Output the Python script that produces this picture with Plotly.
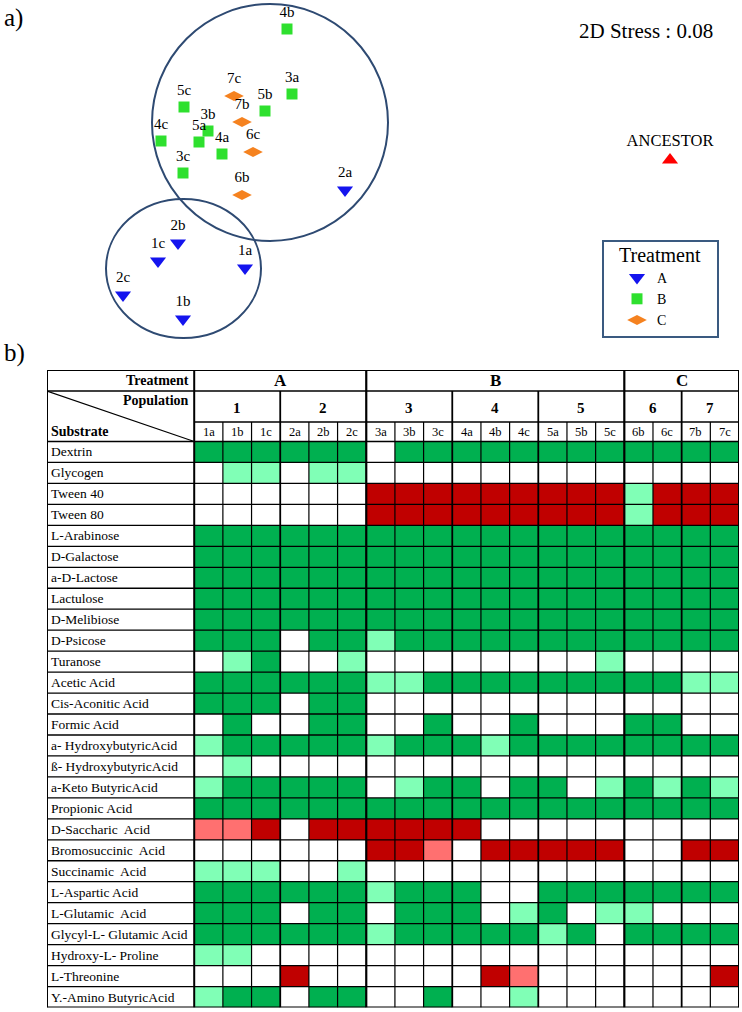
import plotly.graph_objects as go

W, H = 742, 1012
FONT = "Liberation Serif"

# ---------------- panel a) : NMDS ordination ----------------
samples = ["1a", "1b", "1c", "2a", "2b", "2c", "3a", "3b", "3c", "4a",
           "4b", "4c", "5a", "5b", "5c", "6b", "6c", "7b", "7c"]
treatment = ["A"] * 6 + ["B"] * 9 + ["C"] * 4
nmds1 = [-1.55, -2.17, -2.42, -0.55, -2.22, -2.77, -1.08, -1.92, -2.17, -1.78,
         -1.13, -2.39, -2.01, -1.35, -2.16, -1.58, -1.47, -1.58, -1.66]
nmds2 = [-0.98, -1.49, -0.91, -0.20, -0.73, -1.25, 0.76, 0.39, -0.03, 0.16,
         1.41, 0.29, 0.28, 0.59, 0.63, -0.25, 0.18, 0.48, 0.74]
ancestor_x = [2.70]
ancestor_y = [0.10]
stress = 0.08

# cluster ellipses (NMDS units): x0, y0, x1, y1
cluster_big = [-2.48, -0.71, -0.12, 1.66]
cluster_small = [-2.94, -1.68, -1.39, -0.29]

treat_names = ["A", "B", "C"]
treat_symbols = ["triangle-down", "square", "diamond-wide"]
treat_colors = ["#1414ee", "#2ee02e", "#f5821f"]
treat_sizes = [14, 11, 14]

# ---------------- panel b) : Biolog substrate utilisation ----------------
substrates = ["Dextrin", "Glycogen", "Tween 40", "Tween 80", "L-Arabinose",
              "D-Galactose", "a-D-Lactose", "Lactulose", "D-Melibiose", "D-Psicose",
              "Turanose", "Acetic Acid", "Cis-Aconitic Acid", "Formic Acid",
              "a- HydroxybutyricAcid", "ß- HydroxybutyricAcid", "a-Keto ButyricAcid",
              "Propionic Acid", "D-Saccharic  Acid", "Bromosuccinic  Acid",
              "Succinamic  Acid", "L-Aspartic Acid", "L-Glutamic  Acid",
              "Glycyl-L- Glutamic Acid", "Hydroxy-L- Proline", "L-Threonine",
              "Y.-Amino ButyricAcid"]
# 2 = strong gain, 1 = weak gain, 0 = no change, -1 = weak loss, -2 = strong loss
#            1a 1b 1c 2a 2b 2c 3a 3b 3c 4a 4b 4c 5a 5b 5c 6b 6c 7b 7c
activity = [[2, 2, 2, 2, 2, 2, 0, 2, 2, 2, 2, 2, 2, 2, 2, 2, 2, 2, 2],
            [0, 1, 1, 0, 1, 1, 0, 0, 0, 0, 0, 0, 0, 0, 0, 0, 0, 0, 0],
            [0, 0, 0, 0, 0, 0, -2, -2, -2, -2, -2, -2, -2, -2, -2, 1, -2, -2, -2],
            [0, 0, 0, 0, 0, 0, -2, -2, -2, -2, -2, -2, -2, -2, -2, 1, -2, -2, -2],
            [2, 2, 2, 2, 2, 2, 2, 2, 2, 2, 2, 2, 2, 2, 2, 2, 2, 2, 2],
            [2, 2, 2, 2, 2, 2, 2, 2, 2, 2, 2, 2, 2, 2, 2, 2, 2, 2, 2],
            [2, 2, 2, 2, 2, 2, 2, 2, 2, 2, 2, 2, 2, 2, 2, 2, 2, 2, 2],
            [2, 2, 2, 2, 2, 2, 2, 2, 2, 2, 2, 2, 2, 2, 2, 2, 2, 2, 2],
            [2, 2, 2, 2, 2, 2, 2, 2, 2, 2, 2, 2, 2, 2, 2, 2, 2, 2, 2],
            [2, 2, 2, 0, 2, 2, 1, 2, 2, 2, 2, 2, 2, 2, 2, 2, 2, 2, 2],
            [0, 1, 2, 0, 0, 1, 0, 0, 0, 0, 0, 0, 0, 0, 1, 0, 0, 0, 0],
            [2, 2, 2, 2, 2, 2, 1, 1, 2, 2, 2, 2, 2, 2, 2, 2, 2, 1, 1],
            [2, 2, 2, 0, 2, 2, 0, 0, 0, 0, 0, 0, 0, 0, 0, 0, 0, 0, 0],
            [0, 2, 0, 0, 2, 2, 0, 0, 2, 0, 0, 2, 0, 0, 0, 2, 2, 0, 0],
            [1, 2, 2, 2, 2, 2, 1, 2, 2, 2, 1, 2, 2, 2, 2, 2, 2, 2, 2],
            [0, 1, 0, 0, 0, 0, 0, 0, 0, 0, 0, 0, 0, 0, 0, 0, 0, 0, 0],
            [1, 2, 2, 2, 2, 2, 0, 1, 2, 2, 0, 2, 2, 0, 1, 2, 1, 2, 1],
            [2, 2, 2, 2, 2, 2, 2, 2, 2, 2, 2, 2, 2, 2, 2, 2, 2, 2, 2],
            [-1, -1, -2, 0, -2, -2, -2, -2, -2, -2, 0, 0, 0, 0, 0, 0, 0, 0, 0],
            [0, 0, 0, 0, 0, 0, -2, -2, -1, 0, -2, -2, -2, -2, -2, 0, 0, -2, -2],
            [1, 1, 1, 0, 0, 1, 0, 0, 0, 0, 0, 0, 0, 0, 0, 0, 0, 0, 0],
            [2, 2, 2, 2, 2, 2, 1, 2, 2, 2, 0, 0, 2, 2, 2, 2, 2, 2, 2],
            [2, 2, 2, 0, 2, 2, 0, 2, 2, 2, 0, 1, 2, 0, 1, 1, 0, 0, 0],
            [2, 2, 2, 2, 2, 2, 1, 2, 2, 2, 2, 2, 1, 2, 0, 2, 2, 2, 2],
            [1, 1, 0, 0, 0, 0, 0, 0, 0, 0, 0, 0, 0, 0, 0, 0, 0, 0, 0],
            [0, 0, 0, -2, 0, 0, 0, 0, 0, 0, -2, -1, 0, 0, 0, 0, 0, 0, -2],
            [1, 2, 2, 0, 2, 2, 0, 0, 2, 0, 0, 1, 0, 0, 0, 0, 0, 0, 0]]
cell_colors = ["#c00000", "#ff7070", "#ffffff", "#80ffb6", "#00b050"]

fig = go.Figure()

# ---- ordination traces ----
for name, sym, col, sz in zip(treat_names, treat_symbols, treat_colors, treat_sizes):
    idx = [i for i, t in enumerate(treatment) if t == name]
    fig.add_trace(go.Scatter(
        x=[nmds1[i] for i in idx], y=[nmds2[i] for i in idx],
        text=[samples[i] for i in idx], mode="markers+text",
        textposition="top center", name=name,
        textfont=dict(family=FONT, size=15, color="black"),
        marker=dict(symbol=sym, color=col, size=sz, line=dict(width=0)),
        xaxis="x", yaxis="y", showlegend=True, legend="legend"))
fig.add_trace(go.Scatter(
    x=ancestor_x, y=ancestor_y, text=["ANCESTOR"], mode="markers+text",
    textposition="top center", showlegend=False,
    textfont=dict(family=FONT, size=16.5, color="black"),
    marker=dict(symbol="triangle-up", color="#ff0000", size=14),
    xaxis="x", yaxis="y"))

shapes = []
for c in (cluster_big, cluster_small):
    shapes.append(dict(type="circle", xref="x", yref="y", x0=c[0], y0=c[1],
                       x1=c[2], y1=c[3], line=dict(color="#2e4a72", width=2)))

# legend frame
shapes.append(dict(type="rect", xref="paper", yref="paper",
                   x0=603 / W, x1=718 / W, y0=1 - 337 / H, y1=1 - 241 / H,
                   line=dict(color="#3a5a80", width=2)))

# ---- heatmap ----
n_rows, n_cols = len(substrates), len(samples)
fig.add_trace(go.Heatmap(
    z=activity, x=list(range(n_cols)), y=list(range(n_rows)),
    zmin=-2.5, zmax=2.5, showscale=False, xaxis="x2", yaxis="y2",
    colorscale=[[0, cell_colors[0]], [0.2, cell_colors[0]],
                [0.2, cell_colors[1]], [0.4, cell_colors[1]],
                [0.4, cell_colors[2]], [0.6, cell_colors[2]],
                [0.6, cell_colors[3]], [0.8, cell_colors[3]],
                [0.8, cell_colors[4]], [1.0, cell_colors[4]]],
    hoverinfo="skip"))

# table geometry in heatmap units
left = -5.634
right = n_cols - 0.5
top = -3.911
y_tp = -2.909      # treatment / population border
y_ps = -1.430      # population / sample border
y_data = -0.5
bottom = n_rows - 0.5

populations = [s[0] for s in samples]
LINE = "black"

# horizontal lines
for yv, x0, w in [(top, left, 2), (y_tp, left, 1.6), (y_ps, -0.5, 1.3), (y_data, left, 1.6)]:
    shapes.append(dict(type="line", xref="x2", yref="y2", x0=x0, x1=right,
                       y0=yv, y1=yv, line=dict(color=LINE, width=w)))
for r in range(1, n_rows):
    shapes.append(dict(type="line", xref="x2", yref="y2", x0=left, x1=right,
                       y0=r - 0.5, y1=r - 0.5, line=dict(color=LINE, width=1.3)))
shapes.append(dict(type="line", xref="x2", yref="y2", x0=left, x1=right,
                   y0=bottom, y1=bottom, line=dict(color=LINE, width=2)))

# vertical lines
shapes.append(dict(type="line", xref="x2", yref="y2", x0=left, x1=left,
                   y0=top, y1=bottom, line=dict(color=LINE, width=2)))
for b in range(0, n_cols + 1):
    xb = b - 0.5
    if b == 0 or b == n_cols:
        y0, w = top, 2
    elif treatment[b] != treatment[b - 1]:
        y0, w = top, 2.2
    elif populations[b] != populations[b - 1]:
        y0, w = y_tp, 1.8
    else:
        y0, w = y_ps, 1.2
    shapes.append(dict(type="line", xref="x2", yref="y2", x0=xb, x1=xb,
                       y0=y0, y1=bottom, line=dict(color=LINE, width=w)))
# diagonal in corner cell
shapes.append(dict(type="line", xref="x2", yref="y2", x0=left, x1=-0.5,
                   y0=y_tp, y1=y_data, line=dict(color=LINE, width=1.2)))

annotations = []
# header texts
annotations.append(dict(x=-0.62, y=(top + y_tp) / 2, xref="x2", yref="y2",
                        text="<b>Treatment</b>", showarrow=False, xanchor="right",
                        font=dict(family=FONT, size=14, color="black")))
annotations.append(dict(x=-0.62, y=-2.45, xref="x2", yref="y2",
                        text="<b>Population</b>", showarrow=False, xanchor="right",
                        font=dict(family=FONT, size=14, color="black")))
annotations.append(dict(x=left + 0.08, y=-0.98, xref="x2", yref="y2",
                        text="<b>Substrate</b>", showarrow=False, xanchor="left",
                        font=dict(family=FONT, size=14, color="black")))
for t in treat_names:
    cols = [i for i, v in enumerate(treatment) if v == t]
    annotations.append(dict(x=(cols[0] + cols[-1]) / 2, y=(top + y_tp) / 2,
                            xref="x2", yref="y2", text=f"<b>{t}</b>", showarrow=False,
                            font=dict(family=FONT, size=17, color="black")))
for p in sorted(set(populations)):
    cols = [i for i, v in enumerate(populations) if v == p]
    annotations.append(dict(x=(cols[0] + cols[-1]) / 2, y=(y_tp + y_ps) / 2 + 0.05,
                            xref="x2", yref="y2", text=f"<b>{p}</b>", showarrow=False,
                            font=dict(family=FONT, size=15, color="black")))
for i, s in enumerate(samples):
    annotations.append(dict(x=i, y=(y_ps + y_data) / 2, xref="x2", yref="y2",
                            text=s, showarrow=False,
                            font=dict(family=FONT, size=12.5, color="black")))
for r, s in enumerate(substrates):
    annotations.append(dict(x=left + 0.08, y=r, xref="x2", yref="y2", text=s,
                            showarrow=False, xanchor="left",
                            font=dict(family=FONT, size=13.5, color="black")))

# panel letters & stress
annotations.append(dict(x=2 / W, y=1 - 18 / H, xref="paper", yref="paper", text="a)",
                        showarrow=False, xanchor="left", yanchor="middle",
                        font=dict(family=FONT, size=25, color="black")))
annotations.append(dict(x=2 / W, y=1 - 353 / H, xref="paper", yref="paper", text="b)",
                        showarrow=False, xanchor="left", yanchor="middle",
                        font=dict(family=FONT, size=25, color="black")))
annotations.append(dict(x=646 / W, y=1 - 31 / H, xref="paper", yref="paper",
                        text=f"2D Stress : {stress:.2f}", showarrow=False,
                        xanchor="center", yanchor="middle",
                        font=dict(family=FONT, size=21, color="black")))

fig.update_layout(
    width=W, height=H, margin=dict(l=0, r=0, t=0, b=0),
    paper_bgcolor="white", plot_bgcolor="white",
    xaxis=dict(domain=[0, 1], range=[-4.0, 3.42], visible=False, fixedrange=True),
    yaxis=dict(domain=[1 - 340 / H, 1], range=[-1.70, 1.70], visible=False, fixedrange=True),
    xaxis2=dict(domain=[47 / W, 739 / W], range=[left, right], visible=False,
                anchor="y2", fixedrange=True),
    yaxis2=dict(domain=[1 - 1007.5 / H, 1 - 370 / H], range=[bottom, top], visible=False,
                anchor="x2", fixedrange=True),
    shapes=shapes, annotations=annotations,
    showlegend=True,
    legend=dict(x=617 / W, y=1 - 236 / H, xanchor="left", yanchor="top",
                bgcolor="rgba(0,0,0,0)", borderwidth=0,
                title=dict(text="Treatment", font=dict(family=FONT, size=20, color="black")),
                font=dict(family=FONT, size=14, color="black"),
                itemclick=False, itemdoubleclick=False, tracegroupgap=0),
)

fig.write_html("out.html", config={"displayModeBar": False},
               post_script="document.body.style.margin='0';document.body.style.overflow='hidden';")
